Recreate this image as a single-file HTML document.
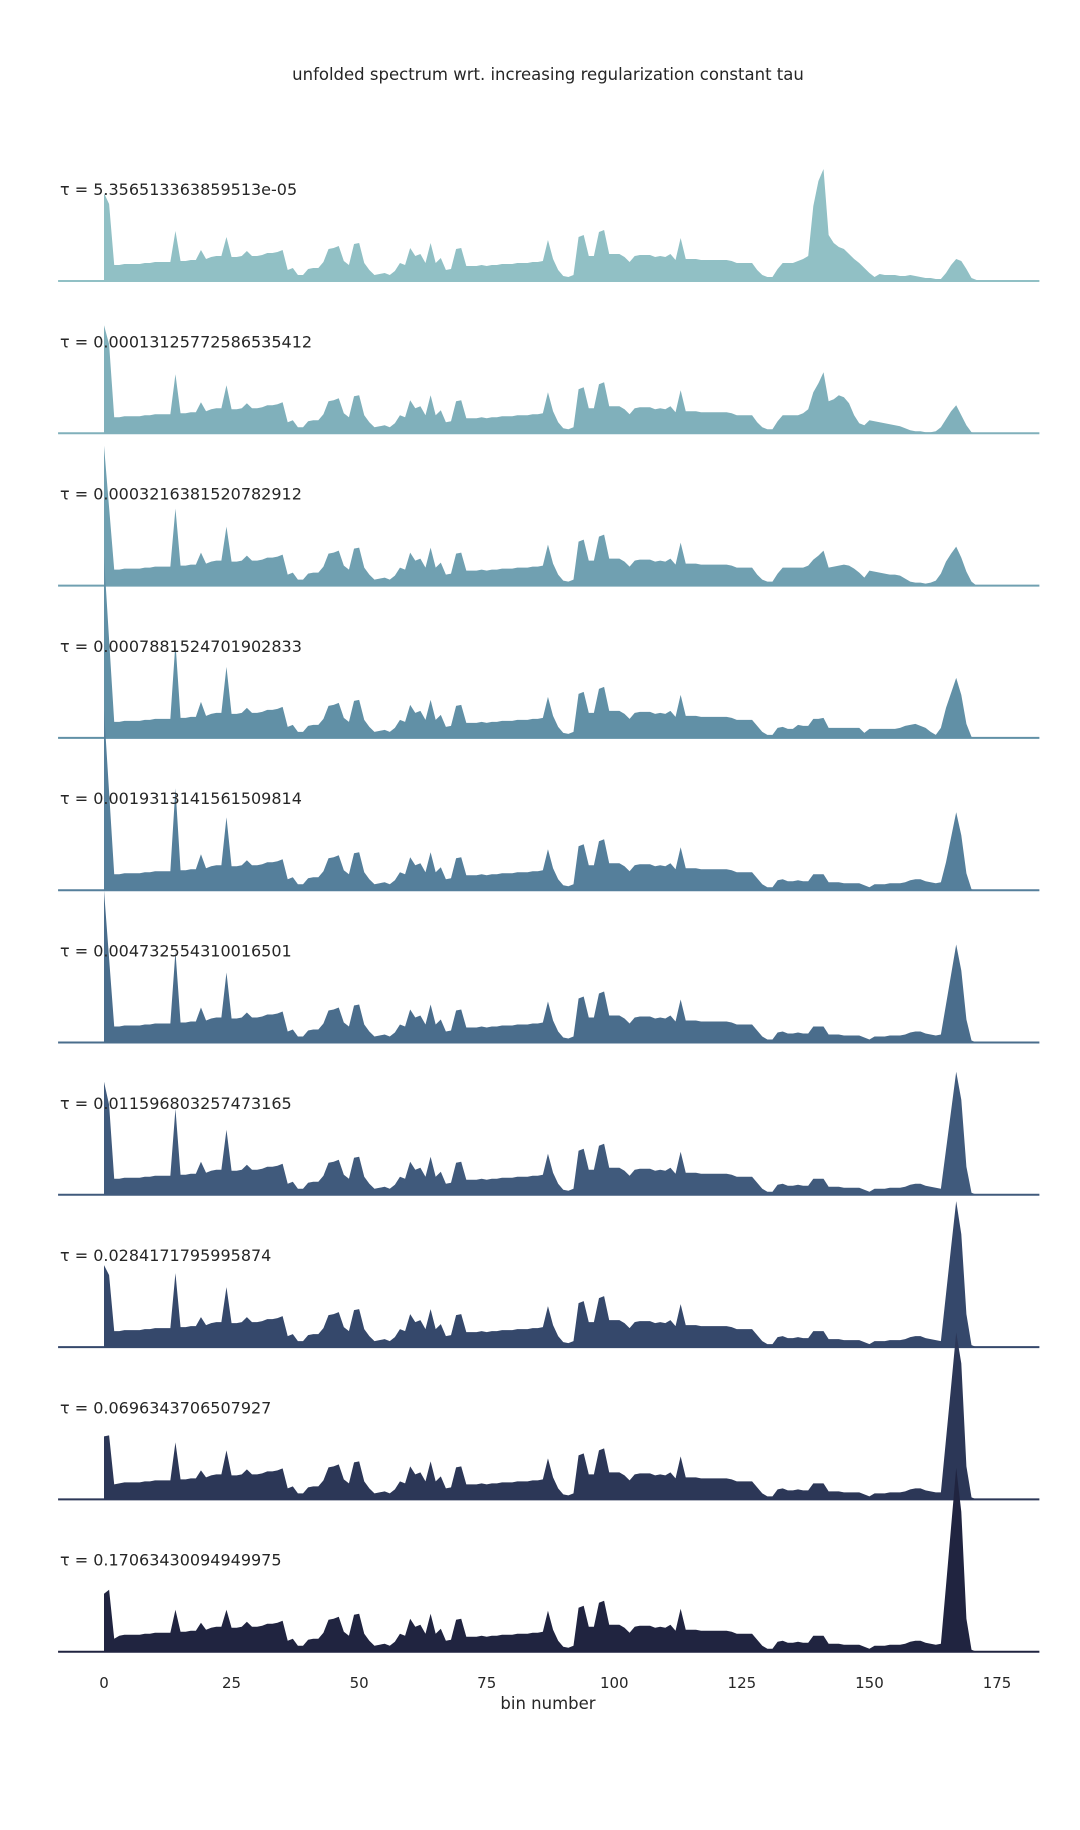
<!DOCTYPE html>
<html><head><meta charset="utf-8"><style>
html,body{margin:0;padding:0;background:#fff;}
svg{display:block;font-family:"DejaVu Sans","Liberation Sans",sans-serif;}
</style></head><body>
<svg id="chart" width="1080" height="1830" viewBox="0 0 1080 1830" xmlns="http://www.w3.org/2000/svg">
<text x="548" y="80" text-anchor="middle" font-size="16.5" fill="#262626">unfolded spectrum wrt. increasing regularization constant tau</text>
<g id="ridges"></g>
<g id="labels"></g>
<g id="xaxis"></g>
<text x="548" y="1709" text-anchor="middle" font-size="16.5" fill="#262626">bin number</text>
</svg>
<script>
const tauLabels = ["5.356513363859513e-05","0.00013125772586535412","0.0003216381520782912","0.0007881524701902833","0.0019313141561509814","0.004732554310016501","0.011596803257473165","0.0284171795995874","0.0696343706507927","0.17063430094949975"];
const colors = ["#91c0c5","#80b0bb","#70a0b1","#6190a6","#557f9b","#4a6d8c","#405a7c","#35486b","#2c3757","#202440"];
const xTicks = [0,25,50,75,100,125,150,175];
const baseSpectrum = [88,77,16,16,17,17,17,17,18,18,19,19,19,19,50,20,20,21,21,31,22,24,25,25,44,24,24,25,30,25,25,26,28,28,29,31,11,13,6,6,12,13,13,19,32,33,35,20,16,37,38,18,11,6,7,8,6,10,18,16,33,25,27,18,38,18,23,11,12,32,33,15,15,15,16,15,16,16,17,17,17,18,18,18,19,19,20,41,22,11,5,4,6,44,46,25,25,49,51,27,27,27,24,19,25,26,26,26,24,25,24,27,21,43,22,22,22,21,21,21,21,21,21,20,18,18,18,18,11,6,4,4,12,18,18,18,20,22,25,75,100,112,46,38,34,32,27,22,18,13,8,4,7,6,6,6,5,5,6,5,4,3,3,2,2,11,17,24,18,16,5,1,0,0,0,0];
const headBins = [0,1,2,14,19,24];
const head1 = [88,77,16,50,31,44];
const head2 = [108,89,16,59,31,48];
const head3 = [140,78,16,77,33,59];
const head4 = [181,98,16,95,36,71];
const head5 = [180,98,16,102,36,73];
const head6 = [152,84,16,91,35,70];
const head7 = [113,90,16,86,33,65];
const head8 = [82,72,16,74,30,60];
const head9 = [63,64,15,57,29,49];
const head10 = [58,62,13,42,29,42];
const midStart = 128;
const midUpper = [11,6,4,4,12,18,18,18];
const midLower = [12,6,3,3,10,11,9,9];
const tailStart = 136;
const tail1 = [20,22,25,75,100,112,46,38,34,32,27,22,18,13,8,4,7,6,6,6,5,5,6,5,4,3,3,2,2,8,16,22,20,12,3,1];
const tail2 = [18,20,24,41,50,61,32,34,38,36,30,18,10,8,13,12,11,10,9,8,7,5,3,2,2,1,1,2,6,14,22,28,18,8,1,0];
const tail3 = [18,18,20,26,30,35,18,19,20,21,20,17,13,8,15,14,13,12,11,11,10,7,4,3,3,2,3,5,12,24,32,39,28,14,4,0];
const tail4 = [13,12,12,19,19,20,10,10,10,10,10,10,10,5,9,9,9,9,9,9,10,12,13,14,12,10,6,3,10,30,45,60,43,14,1,0];
const tail5 = [10,9,9,16,16,16,8,8,8,7,7,7,7,5,3,6,6,6,7,7,7,8,10,11,11,9,8,7,8,28,53,78,55,17,1,0];
const tail6 = [10,9,9,16,16,16,8,8,8,7,7,7,7,5,3,6,6,6,7,7,7,8,10,11,11,9,8,7,8,38,68,98,72,23,2,0];
const tail7 = [10,9,9,16,16,16,8,8,8,7,7,7,7,5,3,6,6,6,7,7,7,8,10,11,11,9,8,7,6,45,84,123,95,28,2,0];
const tail8 = [10,9,9,16,16,16,8,8,8,7,7,7,7,5,3,6,6,6,7,7,7,8,10,11,11,9,8,7,6,53,100,146,113,33,2,0];
const tail9 = [10,9,9,16,16,16,8,8,8,7,7,7,7,5,3,6,6,6,7,7,7,8,10,11,11,9,8,7,7,60,113,167,136,33,2,0];
const tail10 = [10,9,9,16,16,16,8,8,8,7,7,7,7,5,3,6,6,6,7,7,7,8,10,11,11,9,8,7,8,66,125,184,140,33,2,0];

const heads = [head1,head2,head3,head4,head5,head6,head7,head8,head9,head10];
const mids = [midUpper,midUpper,midUpper,midLower,midLower,midLower,midLower,midLower,midLower,midLower];
const tails = [tail1,tail2,tail3,tail4,tail5,tail6,tail7,tail8,tail9,tail10];

const NS = "http://www.w3.org/2000/svg";
const X0 = 104, PXB = 5.103;
function xScale(b){ return X0 + b*PXB; }
const firstBase = 281, rowGap = 152.3;
function baseY(i){ return firstBase + i*rowGap; }
function yScale(i, v){ return baseY(i) - v*1.0; }

const gR = document.getElementById('ridges');
const gL = document.getElementById('labels');
const gX = document.getElementById('xaxis');

for (let i = 0; i < tauLabels.length; i++) {
  const vals = baseSpectrum.slice();
  headBins.forEach((b, k) => { vals[b] = heads[i][k]; });
  mids[i].forEach((v, k) => { vals[midStart + k] = v; });
  tails[i].forEach((v, k) => { vals[tailStart + k] = v; });
  let d = "M" + xScale(0) + "," + baseY(i);
  vals.forEach((v, b) => { d += " L" + xScale(b).toFixed(2) + "," + yScale(i, v).toFixed(2); });
  d += " L" + xScale(vals.length - 1) + "," + baseY(i) + " Z";
  const p = document.createElementNS(NS, 'path');
  p.setAttribute('d', d);
  p.setAttribute('fill', colors[i]);
  
  
  gR.appendChild(p);
  const ln = document.createElementNS(NS, 'line');
  ln.setAttribute('x1', xScale(-9)); ln.setAttribute('x2', xScale(183.3));
  ln.setAttribute('y1', baseY(i)); ln.setAttribute('y2', baseY(i));
  ln.setAttribute('stroke', colors[i]); ln.setAttribute('stroke-width', '2');
  
  
  gR.appendChild(ln);
  const t = document.createElementNS(NS, 'text');
  t.setAttribute('x', 60);
  t.setAttribute('y', baseY(i) - 86);
  t.setAttribute('font-size', '16');
  t.setAttribute('fill', '#262626');
  t.textContent = "τ = " + tauLabels[i];
  
  
  gL.appendChild(t);
}
xTicks.forEach(v => {
  const t = document.createElementNS(NS, 'text');
  t.setAttribute('x', xScale(v));
  t.setAttribute('y', 1688);
  t.setAttribute('text-anchor', 'middle');
  t.setAttribute('font-size', '15');
  t.setAttribute('fill', '#262626');
  t.textContent = v;
  
  
  gX.appendChild(t);
});
</script>
</body></html>
